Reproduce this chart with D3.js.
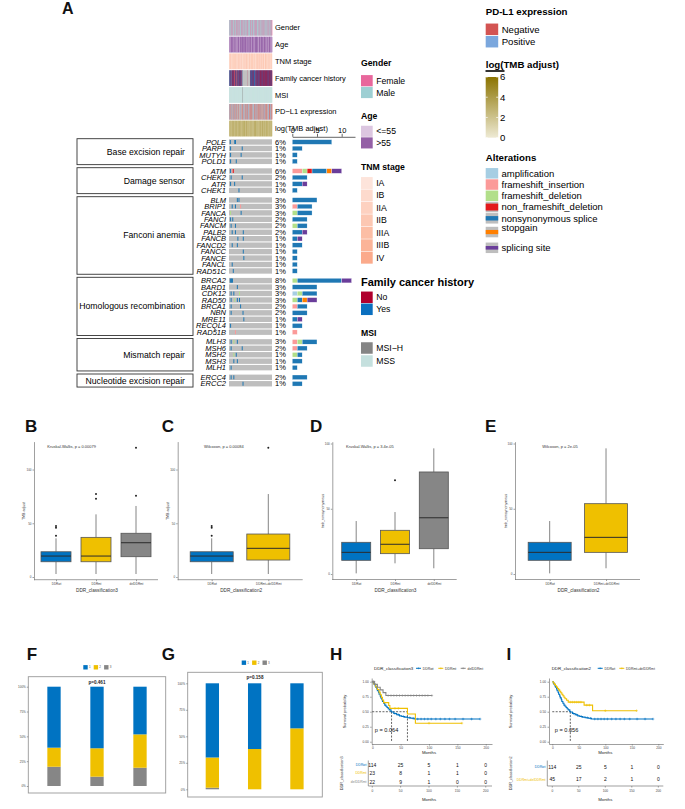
<!DOCTYPE html>
<html><head><meta charset="utf-8">
<script src="https://cdn.jsdelivr.net/npm/d3@7"></script>
<style>body{margin:0;background:#fff}</style>
</head><body>
<script>
// ================= DATA =================
const annotationNames = ["Gender","Age","TNM stage","Family cancer history","MSI","PD\u2212L1 expression","log(TMB adjust)"];
// one character per sample (159 samples)
const genderCodes = "MFMMFMMFMF"+"MMFMFMMMFM"+"FMMFMMFMFM"+"MMFFMMFMMF"+"MFMMMFMFMM"+"FMFMMFMMFM"+"MMFMFMMFFM"+"MFMMFMMMFM"+"FMFMMFMFMM"+"MMFMMFMFMF"+"MFMFMMMFMM"+"FMMFMFMMFM"+"MFMMFMMFMF"+"MMFMFMMFMM"+"FMMFMMFMFM"+"MFMMFMFMF";
const ageCodes    = "OOYOOOYOOO"+"OYOOOOYOOY"+"OOOYOOOOYO"+"OOYOOOOOYO"+"YOOOOYOOOO"+"OOYOOOYOOO"+"OOOOYOOYOO"+"OYOOOOOYOO"+"OOOYOOOOOY"+"OOYOOYOOOO"+"OOOOYOOOYO"+"YOOOOOYOOO"+"OOYOOOOYOO"+"OOOOYOOOOY"+"OYOOOOYOOO"+"OOOYOOOYO";
const tnmCodes    = "3241352613"+"2413526142"+"3514263241"+"5231426315"+"2413632514"+"1352416324"+"5142362315"+"4231562413"+"2615342531"+"4236152413"+"3524162534"+"1425363142"+"5341262453"+"2136452314"+"6241352413"+"524136251";
const familyCodes = "YNY-YNYN-Y"+"NYNNYNNYNN"+"N-NYNYN-NY"+"NYN-YNYNNY"+"NYNYN-NYNY"+"----------"+"-------N--"+"--------YN"+"YNYYNYNYNN"+"YNYNYY-NYN"+"NYNYNNYNYN"+"YNNYNYNNYN"+"NYNNYNYNNY"+"NNYNYNNYNN"+"YNNYNNYNYN"+"NYNNYNNYN";
const msiCodes    = "SSSSSSSSSS"+"SSSSSSSSSS"+"SSSSSSSSSS"+"SSSSSSSSSS"+"SSSSSSSSSS"+"HSSSSSSSSS"+"SSSSSSSSSS"+"SSSSSSSSSS"+"SSSSSSSSSS"+"SSSSSSSSSS"+"SSSSSSSSSS"+"SSSSSSSSSS"+"SSSSSSSSSS"+"SSSSSSSSSS"+"SSSSSSSSSS"+"SSSSSSSSS";
const pdl1Codes   = "-N-P--N-N-"+"P-N--NP-N-"+"-N-N-P--N-"+"N--P-N-N--"+"-NP--N--N-"+"N-N-P-N--P"+"-N--N-P-N-"+"N-P-N--N-N"+"-N-N-P--N-"+"P--N-N-N-P"+"-N-P--N-N-"+"N--N-P-N--"+"-N-N--P-N-"+"N-P--N-N-N"+"-N--N-P--N"+"N-N-P-N-N";
const logTmbCodes = "3232432323"+"2343232432"+"3234323243"+"2323432324"+"3432323234"+"2324323432"+"3232343232"+"4323232343"+"2342323232"+"3232432343"+"2324323232"+"3432324323"+"2323432324"+"3243232343"+"2324323232"+"343232432";

const pathwayNames = ["Base excision repair","Damage sensor","Fanconi anemia","Homologous recombination","Mismatch repair","Nucleotide excision repair"];
const pathwayGenes = [
  ["POLE","PARP1","MUTYH","POLD1"],
  ["ATM","CHEK2","ATR","CHEK1"],
  ["BLM","BRIP1","FANCA","FANCI","FANCM","PALB2","FANCB","FANCD2","FANCC","FANCE","FANCL","RAD51C"],
  ["BRCA2","BARD1","CDK12","RAD50","BRCA1","NBN","MRE11","RECQL4","RAD51B"],
  ["MLH3","MSH6","MSH2","MSH3","MLH1"],
  ["ERCC4","ERCC2"]];
const genePercents = [[6,1,1,1],[6,2,1,1],[3,3,3,2,2,2,1,1,1,1,1,1],[8,3,3,3,2,2,1,1,1],[3,2,1,1,1],[2,1]];
const alterationNames = ["amplification","frameshift_insertion","frameshift_deletion","non_frameshift_deletion","nonsynonymous splice","stopgain","splicing site"];
// counts per alteration type (same order as alterationNames)
const geneCounts = {
  POLE:[0,0,0,0,8,0,0], PARP1:[0,0,0,0,2,0,0], MUTYH:[0,0,0,0,1,0,0], POLD1:[0,0,0,0,1,0,0],
  ATM:[0,2,1,1,3,1,2], CHEK2:[0,0,0,0,3,0,0], ATR:[0,0,0,0,2,0,1], CHEK1:[0,0,0,0,1,0,0],
  BLM:[0,0,0,0,5,0,0], BRIP1:[0,1,0,0,3,0,0], FANCA:[0,0,1,0,3,0,0], FANCI:[0,0,0,0,3,0,0],
  FANCM:[0,0,1,0,2,0,0], PALB2:[0,0,0,0,2,0,1], FANCB:[0,0,0,0,1,0,1], FANCD2:[0,0,0,0,2,0,0],
  FANCC:[0,0,0,0,1,0,0], FANCE:[0,0,0,0,1,0,0], FANCL:[0,0,0,0,1,0,0], RAD51C:[0,0,0,0,1,0,0],
  BRCA2:[0,0,1,0,9,0,2], BARD1:[0,0,0,0,5,0,0], CDK12:[1,0,1,0,3,0,0], RAD50:[0,0,1,0,1,1,2],
  BRCA1:[0,1,0,0,2,0,0], NBN:[0,0,0,0,3,0,0], MRE11:[0,0,0,0,1,0,1], RECQL4:[0,0,0,0,2,0,0],
  RAD51B:[0,1,0,0,0,0,0], MLH3:[0,1,1,0,3,0,0], MSH6:[0,1,0,0,2,0,0], MSH2:[0,0,1,0,1,0,0],
  MSH3:[0,0,0,0,2,0,0], MLH1:[0,0,0,0,1,0,0], ERCC4:[0,0,0,0,3,0,0], ERCC2:[0,0,0,0,2,0,0]};
// [sample index, alteration type index]
const mutationSamples = {
  POLE:[[3,4],[20,4],[21,4],[22,4]], PARP1:[[4,4],[47,4]], MUTYH:[[4,4],[43,4]], POLD1:[[4,4],[25,4]],
  ATM:[[4,4],[10,1],[14,3]], CHEK2:[[6,4],[47,4]], ATR:[[4,4],[19,4]], CHEK1:[[35,4]],
  BLM:[[29,4],[35,4]], BRIP1:[[10,4],[22,4],[41,1]], FANCA:[[4,2],[43,4]], FANCI:[[4,4],[12,4]],
  FANCM:[[6,4],[22,4]], PALB2:[[10,4],[22,4],[51,4]], FANCB:[[31,4],[51,4]], FANCD2:[[10,4],[29,4]],
  FANCC:[[51,4]], FANCE:[[53,4]], FANCL:[[10,4]], RAD51C:[[14,4]],
  BRCA2:[[3,4],[5,4],[7,4],[9,4],[11,4]], BARD1:[[29,4]], CDK12:[[6,4],[16,4],[37,2]], RAD50:[[6,4],[19,2],[29,4],[37,4]],
  BRCA1:[[6,4],[41,4]], NBN:[[6,4],[50,4]], MRE11:[[53,4]], RECQL4:[[4,4]], RAD51B:[[22,1]],
  MLH3:[[6,4],[16,2],[29,4]], MSH6:[[6,4],[47,4]], MSH2:[[16,2],[25,4]], MSH3:[[16,4],[29,4]], MLH1:[[6,4]],
  ERCC4:[[6,4],[16,4]], ERCC2:[[50,4]]};
const barAxisTicks = [0,5,10];

const genderLevels = ["Female","Male"];
const ageLevels = ["<=55",">55"];
const tnmLevels = ["IA","IB","IIA","IIB","IIIA","IIIB","IV"];
const familyLevels = ["No","Yes"];
const msiLevels = ["MSI\u2212H","MSS"];
const pdl1Levels = ["Negative","Positive"];
const tmbLegendTicks = [0,2,4,6];

// Box plots: [lower whisker, Q1, median, Q3, upper whisker]
const class3Groups = ["DDRwt","DDRmt","delDDRmt"];
const class2Groups = ["DDRwt","DDRmt+delDDRmt"];
const tmbClass3Stats = [[2.8,14.2,19.5,23.5,36],[2.8,14.2,19.5,36.9,58.3],[2.8,18.9,31.9,40.7,66.1]];
const tmbClass3Out = [[47.5,45.9,38.4],[77.2,72.9],[75.6,120.3]];
const tmbClass2Stats = [[2.8,14.2,19.5,23.5,36],[2.8,15.8,26.7,40,77.2]];
const tmbClass2Out = [[47.5,45.9,38.4],[120.3]];
const nonsynClass3Stats = [[0.5,10.5,16.6,24.3,40.6],[8.2,15.6,22.8,33.5,47.5],[4.4,19.4,43.1,78.2,96.3]];
const nonsynClass3Out = [[],[71.8],[]];
const nonsynClass2Stats = [[0.5,10.5,16.6,24.3,40.6],[4.4,16.6,28.1,53.9,96.3]];
const nonsynClass2Out = [[],[]];
const boxTicks = [0,50,100];

// stacked proportions: [gray, yellow, blue]
const legendStackLabels = ["1","2","3"];
const propF = [[0.194,0.192,0.614],[0.094,0.286,0.620],[0.184,0.336,0.480]];
const propG = [[0.015,0.285,0.700],[0.0,0.380,0.620],[0.0,0.575,0.425]];
const pctTicks = [0,0.25,0.5,0.75,1];

// Kaplan-Meier steps [months, survival]
const kmDDRwt = [[0,1],[2,0.98],[3,0.96],[5,0.93],[6,0.91],[8,0.88],[9,0.85],[11,0.82],[12,0.79],[14,0.76],[15,0.73],[17,0.70],[18,0.67],[20,0.64],[22,0.61],[24,0.59],[26,0.57],[28,0.55],[30,0.53],[33,0.505],[34,0.495],[38,0.47],[43,0.45],[48,0.43],[52,0.42],[57,0.41],[62,0.40],[68,0.39],[74,0.378]];
const kmDDRwtEnd = 190;
const kmDDRwtCensor = [40,46,55,66,72,80,86,92,98,104,112,120,128,136,146,160,175,190];
const kmDDRmt = [[0,1],[3,0.957],[6,0.913],[9,0.87],[12,0.826],[14,0.783],[16,0.739],[18,0.696],[20,0.652],[29,0.604],[31,0.556],[62,0.463],[76,0.309]];
const kmDDRmtEnd = 158;
const kmDDRmtCensor = [40,46,100,158];
const kmDel = [[0,1],[4,0.955],[9,0.909],[14,0.864],[19,0.818],[24,0.77]];
const kmDelEnd = 105;
const kmDelCensor = [1,2,3,28,33,38,43,48,53,58,63,68,73,78,83,88,93,98,105];
const kmMtDel = [[0,1],[2,0.978],[4,0.956],[6,0.933],[8,0.91],[10,0.887],[12,0.864],[14,0.84],[16,0.815],[18,0.79],[20,0.765],[22,0.74],[24,0.715],[27,0.69],[30,0.66],[60,0.61],[76,0.517]];
const kmMtDelEnd = 159;
const kmMtDelCensor = [34,38,42,46,50,54,65,70,100,159];
const kmTicks = [0,50,100,150,200];
const medianH = [34,62];
const medianI = [34];
const riskH = [[114,25,5,1,0],[23,8,1,1,0],[22,9,1,0,0]];
const riskI = [[114,25,5,1,0],[45,17,2,1,0]];

// ================= STYLE =================
const FONT = '"Liberation Sans", Arial, Helvetica, sans-serif';
const genderColors = ["#E8679C","#9DCFD3"];
const ageColors = ["#DCC6E0","#9460A6"];
const tnmColors = ["#FDE4DB","#FDDACD","#FDD1C0","#FCC7B2","#FCBEA5","#FBB498","#FBAA8B"];
const familyColors = ["#B0002E","#0A6FBF"];
const msiColors = ["#858585","#C5E0DE"];
const pdl1Colors = ["#D35452","#7BA7DD"];
const naColor = "#BEBEBE";
const altColors = ["#A6CEE3","#FB9A99","#B2DF8A","#E31A1C","#1F78B4","#FF7F00","#6A3D9A"];
const jco = {blue:"#0073C2", yellow:"#EFC000", gray:"#868686"};
const tmbColor = d3.scaleLinear().domain([0,6]).range(["#EEEAD4","#8B7300"]);

const svg = d3.select("body").append("svg").attr("width",685).attr("height",809).style("font-family",FONT);

function txt(x,y,s,o={}){
  const t = svg.append("text").attr("x",x).attr("y",y).text(s)
    .attr("font-size",o.fs||8).attr("fill",o.fill||"#000");
  if(o.anchor) t.attr("text-anchor",o.anchor);
  if(o.weight) t.attr("font-weight",o.weight);
  if(o.style) t.attr("font-style",o.style);
  if(o.rot!=null) t.attr("transform",`rotate(${o.rot},${x},${y})`);
  return t;
}
function styleAxis(a,fs){
  a.attr("font-family",FONT).attr("font-size",fs);
  a.selectAll(".domain,.tick line").attr("stroke","#777").attr("stroke-width",0.7);
  a.selectAll("text").attr("fill","#444");
}

// panel letters
[["A",62,13.5,16],["B",25,431.7,17],["C",161.7,431.7,17],["D",310,431.7,17],["E",485,431.7,17],
 ["F",26.7,660,17],["G",161.7,660,17],["H",330,660,17],["I",506.5,660,17]]
 .forEach(([l,x,y,f])=>txt(x,y,l,{fs:f,weight:"bold",fill:"#111"}));

// ================= PANEL A =================
const nS = genderCodes.length;
const sx = d3.scaleLinear().domain([0,nS]).range([229,272]);
const colW = sx(1)-sx(0);
const annBand = d3.scaleBand().domain(annotationNames).range([20,136.3]).paddingInner(0.075);
const annCodes = [genderCodes,ageCodes,tnmCodes,familyCodes,msiCodes,pdl1Codes,logTmbCodes];
const annColor = [
  c=>genderColors["FM".indexOf(c)],
  c=>ageColors["YO".indexOf(c)],
  c=>tnmColors[+c-1],
  c=>c==="-"?naColor:familyColors["NY".indexOf(c)],
  c=>msiColors["HS".indexOf(c)],
  c=>c==="-"?naColor:pdl1Colors["NP".indexOf(c)],
  c=>tmbColor(+c)];
annotationNames.forEach((name,r)=>{
  svg.append("g").selectAll("rect").data(annCodes[r].split("")).join("rect")
    .attr("x",(d,i)=>sx(i)).attr("width",colW+0.3)
    .attr("y",annBand(name)).attr("height",annBand.bandwidth())
    .attr("fill",d=>annColor[r](d));
  txt(275, annBand(name)+annBand.bandwidth()/2+2.7, name, {fs:7.5});
});

// gene rows
const geneRows = [];
pathwayGenes.forEach((genes,g)=>genes.forEach((name,i)=>geneRows.push({name,g,pct:genePercents[g][i],k:geneRows.length})));
const rowY = d => 142 + d.k*6.45 + d.g*3.2;
const bx = d3.scaleLinear().domain([0,12.7]).range([292.3,355]);

pathwayNames.forEach((p,g)=>{
  const rows = geneRows.filter(d=>d.g===g);
  const y0 = rowY(rows[0])-3.3, y1 = rowY(rows[rows.length-1])+3.3;
  svg.append("rect").attr("x",77).attr("y",y0).attr("width",116).attr("height",y1-y0)
    .attr("fill","none").attr("stroke","#333").attr("stroke-width",0.9);
  txt(185,(y0+y1)/2+3,p,{fs:8.7,anchor:"end"});
});

const gRows = svg.append("g");
geneRows.forEach(d=>{
  const y = rowY(d);
  txt(226, y+2.6, d.name, {fs:7.5, style:"italic", anchor:"end"});
  gRows.append("rect").attr("x",sx(0)).attr("y",y-2.7).attr("width",sx(nS)-sx(0)).attr("height",5.4).attr("fill",naColor);
  mutationSamples[d.name].forEach(([s,t])=>{
    gRows.append("rect").attr("x",sx(s)).attr("y",y-2).attr("width",1).attr("height",4).attr("fill",altColors[t]);
  });
  txt(275, y+2.6, d.pct+"%", {fs:7.5});
  let acc = 0;
  geneCounts[d.name].forEach((n,t)=>{
    if(n>0){
      gRows.append("rect").attr("x",bx(acc)).attr("y",y-2.3).attr("width",bx(acc+n)-bx(acc)).attr("height",4.6)
        .attr("fill",altColors[t]).attr("stroke","#fff").attr("stroke-width",0.3);
      acc += n;
    }
  });
});
const barAxis = svg.append("g").attr("transform","translate(0,136.8)")
  .call(d3.axisTop(bx).tickValues(barAxisTicks).tickSize(3).tickSizeOuter(0).tickPadding(1));
barAxis.attr("font-family",FONT).attr("font-size",7.5);
barAxis.selectAll(".domain,.tick line").attr("stroke","#222").attr("stroke-width",0.7);
barAxis.selectAll("text").attr("fill","#000");

// legends
function catLegend(x, yTitle, title, titleFs, levels, colors, yFirst, step, swW, swH, labFs){
  txt(x, yTitle, title, {fs:titleFs, weight:"bold"});
  levels.forEach((l,i)=>{
    const cy = yFirst + i*step;
    svg.append("rect").attr("x",x).attr("y",cy-swH/2).attr("width",swW).attr("height",swH).attr("fill",colors[i]);
    txt(x+swW+3.5, cy+labFs*0.35, l, {fs:labFs});
  });
}
catLegend(361, 66, "Gender", 8.7, genderLevels, genderColors, 80.7, 11.8, 11.7, 11.2, 8.7);
catLegend(361, 118.7, "Age", 8.7, ageLevels, ageColors, 131.3, 11.6, 11.7, 11.1, 8.7);
catLegend(361, 169.7, "TNM stage", 8.7, tnmLevels, tnmColors, 183, 12.45, 11.7, 11.9, 8.7);
catLegend(361, 286, "Family cancer history", 11, familyLevels, familyColors, 297.3, 12, 11.7, 11.5, 8.7);
catLegend(361, 335.7, "MSI", 8.7, msiLevels, msiColors, 348, 13, 11.7, 11.5, 8.7);
catLegend(485.7, 15.3, "PD-L1 expression", 9.7, pdl1Levels, pdl1Colors, 29.3, 12.4, 12.5, 11.5, 9.6);

// TMB colorbar
txt(485.7, 68.3, "log(TMB adjust)", {fs:9.7, weight:"bold"});
svg.append("line").attr("x1",485.5).attr("x2",504.5).attr("y1",71).attr("y2",71).attr("stroke","#000").attr("stroke-width",1.6);
const defs = svg.append("defs");
const grad = defs.append("linearGradient").attr("id","tmbg").attr("x1",0).attr("x2",0).attr("y1",1).attr("y2",0);
[0,3,6].forEach(v=>grad.append("stop").attr("offset",v/6).attr("stop-color",tmbColor(v)));
const tl = d3.scaleLinear().domain([0,6]).range([137.7,77]);
svg.append("rect").attr("x",485.7).attr("y",tl(6)).attr("width",12.5).attr("height",tl(0)-tl(6)).attr("fill","url(#tmbg)");
tmbLegendTicks.forEach(v=>{
  svg.append("line").attr("x1",485.7).attr("x2",487.7).attr("y1",tl(v)).attr("y2",tl(v)).attr("stroke","#fff").attr("stroke-width",0.7);
  svg.append("line").attr("x1",496.2).attr("x2",498.2).attr("y1",tl(v)).attr("y2",tl(v)).attr("stroke","#fff").attr("stroke-width",0.7);
  txt(500, tl(v)+3.4, String(v), {fs:9.6});
});

// alterations legend
txt(485.7, 160.6, "Alterations", {fs:9.7, weight:"bold"});
const bandFrac = [1,1,1,0.66,0.42,0.4,0.34];
alterationNames.forEach((a,i)=>{
  const cy = 173.3 + i*11.25 + (i>=5?2.5:0) + (i>=6?4.5:0);
  const h = 10.5;
  if(i>=3) svg.append("rect").attr("x",485.7).attr("y",cy-h/2).attr("width",12.5).attr("height",h).attr("fill",naColor);
  const bh = h*bandFrac[i];
  svg.append("rect").attr("x",485.7).attr("y",cy-bh/2).attr("width",12.5).attr("height",bh).attr("fill",altColors[i]);
  txt(501.5, cy+(i===5?-1.2:3.3), a, {fs:9.5});
});

// ================= PANELS B-E =================
function boxPanel(c){
  const y = d3.scaleLinear().domain(c.ylim).range([c.bottom,c.top]);
  const x = d3.scalePoint().domain(c.groups).range(c.xr).padding(0.5);
  const ya = svg.append("g").attr("transform",`translate(${c.left},0)`)
    .call(d3.axisLeft(y).tickValues(boxTicks).tickSize(1.5).tickSizeOuter(0).tickPadding(1));
  styleAxis(ya,3);
  svg.append("line").attr("x1",c.left).attr("x2",c.right).attr("y1",c.bottom).attr("y2",c.bottom).attr("stroke","#777").attr("stroke-width",0.7);
  const xa = svg.append("g").attr("transform",`translate(0,${c.bottom})`)
    .call(d3.axisBottom(x).tickSize(1.5).tickPadding(1.5));
  xa.select(".domain").remove();
  styleAxis(xa,3);
  c.stats.forEach((s,i)=>{
    const cx = x(c.groups[i]);
    const [lo,q1,md,q3,hi] = s;
    const g = svg.append("g");
    g.append("line").attr("x1",cx).attr("x2",cx).attr("y1",y(lo)).attr("y2",y(q1)).attr("stroke","#666").attr("stroke-width",0.8);
    g.append("line").attr("x1",cx).attr("x2",cx).attr("y1",y(q3)).attr("y2",y(hi)).attr("stroke","#666").attr("stroke-width",0.8);
    g.append("rect").attr("x",cx-c.boxW/2).attr("y",y(q3)).attr("width",c.boxW).attr("height",y(q1)-y(q3))
      .attr("fill",c.colors[i]).attr("stroke","#555").attr("stroke-width",0.8);
    g.append("line").attr("x1",cx-c.boxW/2).attr("x2",cx+c.boxW/2).attr("y1",y(md)).attr("y2",y(md)).attr("stroke","#2b2b2b").attr("stroke-width",1);
    c.out[i].forEach(v=>g.append("circle").attr("cx",cx).attr("cy",y(v)).attr("r",1).attr("fill","#222"));
  });
  txt(c.px, 448.2, c.ptext, {fs:4, fill:"#333"});
  txt(c.yTitleX, 511, c.yTitle, {fs:3.6, anchor:"middle", rot:-90, fill:"#333"});
  txt((c.left+c.right)/2+1, 591.5, c.xTitle, {fs:4.7, anchor:"middle", fill:"#333"});
}
const col3 = [jco.blue, jco.yellow, jco.gray], col2 = [jco.blue, jco.yellow];
boxPanel({left:34,right:158,top:441.6,bottom:579.7,ylim:[-2.5,126],groups:class3Groups,xr:[36,156],boxW:30,
  stats:tmbClass3Stats,out:tmbClass3Out,colors:col3,ptext:"Kruskal-Wallis, p = 0.00079",px:47.3,
  yTitle:"TMB adjust",yTitleX:25,xTitle:"DDR_classification3"});
boxPanel({left:177.7,right:302.7,top:441.6,bottom:579.7,ylim:[-2.5,126],groups:class2Groups,xr:[183.4,296.6],boxW:43,
  stats:tmbClass2Stats,out:tmbClass2Out,colors:col2,ptext:"Wilcoxon, p = 0.00084",px:204,
  yTitle:"TMB adjust",yTitleX:169,xTitle:"DDR_classification2"});
boxPanel({left:332.3,right:456.7,top:441.7,bottom:579.5,ylim:[-4.2,101.4],groups:class3Groups,xr:[336.8,453.2],boxW:29,
  stats:nonsynClass3Stats,out:nonsynClass3Out,colors:col3,ptext:"Kruskal-Wallis, p = 3.4e-05",px:346,
  yTitle:"tmb_nonsynonymous",yTitleX:323.5,xTitle:"DDR_classification3"});
boxPanel({left:515,right:640,top:441.7,bottom:579.5,ylim:[-4.2,101.4],groups:class2Groups,xr:[521.5,634.2],boxW:43,
  stats:nonsynClass2Stats,out:nonsynClass2Out,colors:col2,ptext:"Wilcoxon, p = 2e-05",px:542.3,
  yTitle:"tmb_nonsynonymous",yTitleX:506.5,xTitle:"DDR_classification2"});

// ================= PANELS F-G =================
function stackPanel(c){
  svg.append("rect").attr("x",c.bl).attr("y",c.bt).attr("width",c.br-c.bl).attr("height",c.bb-c.bt)
    .attr("fill","none").attr("stroke","#999").attr("stroke-width",0.9);
  const y = d3.scaleLinear().domain([0,1]).range(c.yr);
  const x = d3.scaleBand().domain(d3.range(c.data.length)).range(c.xr).paddingInner(c.pad).paddingOuter(c.pad/2);
  const ya = svg.append("g").attr("transform",`translate(${c.bl},0)`)
    .call(d3.axisLeft(y).tickValues(pctTicks).tickFormat(d3.format(".0%")).tickSize(1.5).tickPadding(1));
  ya.select(".domain").remove();
  styleAxis(ya,3);
  const series = d3.stack().keys([0,1,2])(c.data);
  const cols = [jco.gray, jco.yellow, jco.blue];
  series.forEach((s,k)=>{
    svg.append("g").selectAll("rect").data(s).join("rect")
      .attr("x",(d,i)=>x(i)).attr("width",x.bandwidth())
      .attr("y",d=>y(d[1])).attr("height",d=>y(d[0])-y(d[1])).attr("fill",cols[k]);
  });
  txt((c.bl+c.br)/2, c.bt+7, c.ptext, {fs:4.6, weight:"bold", anchor:"middle", fill:"#222"});
  [jco.blue, jco.yellow, jco.gray].forEach((col,i)=>{
    const lx = c.legX + i*10.4;
    svg.append("rect").attr("x",lx).attr("y",c.legY-2.2).attr("width",4.4).attr("height",4.4).attr("fill",col);
    txt(lx+5.6, c.legY+1.1, legendStackLabels[i], {fs:3, fill:"#555"});
  });
}
stackPanel({bl:28.3,br:165.7,bt:676.7,bb:793,yr:[786,686.7],xr:[32.5,161.5],pad:0.69,data:propF,ptext:"p=0.461",legX:83.3,legY:667.3});
stackPanel({bl:187.7,br:322.3,bt:672.3,bb:797,yr:[789.3,683.3],xr:[191.2,318.1],pad:0.685,data:propG,ptext:"p=0.158",legX:241.7,legY:662.7});

// ================= PANELS H-I =================
function survAt(steps,t){ let s=1; steps.forEach(d=>{ if(d[0]<=t) s=d[1]; }); return s; }
function kmPanel(c){
  const x = d3.scaleLinear().domain(c.xd).range(c.xr);
  const y = d3.scaleLinear().domain([-0.038,1.062]).range([744,678]);
  const ya = svg.append("g").attr("transform",`translate(${c.xr[0]},0)`)
    .call(d3.axisLeft(y).tickValues([0,0.25,0.5,0.75,1]).tickFormat(d3.format(".2f")).tickSize(1.5).tickSizeOuter(0).tickPadding(1.5));
  styleAxis(ya,3.2);
  const xa = svg.append("g").attr("transform","translate(0,744)")
    .call(d3.axisBottom(x).tickValues(kmTicks).tickSize(1.5).tickSizeOuter(0).tickPadding(1.5));
  styleAxis(xa,3.2);
  txt(x(100), 754.3, "Months", {fs:4.3, anchor:"middle", fill:"#222"});
  txt(c.survX, 711.5, "Survival probability", {fs:4, anchor:"middle", rot:-90, fill:"#333"});
  // median lines
  const dash = {stroke:"#222", w:0.7, d:"2,1.4"};
  const hl = svg.append("line").attr("x1",x(0)).attr("x2",x(d3.max(c.medians))).attr("y1",y(0.5)).attr("y2",y(0.5));
  const lines=[hl];
  c.medians.forEach(m=>lines.push(svg.append("line").attr("x1",x(m)).attr("x2",x(m)).attr("y1",y(0.5)).attr("y2",y(0))));
  lines.forEach(l=>l.attr("stroke",dash.stroke).attr("stroke-width",dash.w).attr("stroke-dasharray",dash.d));
  // curves
  c.series.forEach(s=>{
    const pts = s.steps.concat([[s.end, s.steps[s.steps.length-1][1]]]);
    svg.append("path").attr("d",d3.line().x(d=>x(d[0])).y(d=>y(d[1])).curve(d3.curveStepAfter)(pts))
      .attr("fill","none").attr("stroke",s.color).attr("stroke-width",1.1);
    const cp = s.censor.map(t=>[x(t),y(survAt(s.steps,t))]);
    svg.append("path").attr("d",cp.map(([px,py])=>`M${px-1.3},${py}h2.6M${px},${py-1.3}v2.6`).join(""))
      .attr("stroke",s.color).attr("stroke-width",0.5).attr("fill","none");
  });
  txt(x(0)+2.5, 731.8, c.ptext, {fs:5.6, fill:"#111"});
  // legend
  txt(c.legX, 669.8, c.legTitle, {fs:4.4, fill:"#222"});
  c.series.forEach((s,i)=>{
    const lx = c.legKeys[i];
    svg.append("line").attr("x1",lx).attr("x2",lx+5).attr("y1",668.3).attr("y2",668.3).attr("stroke",s.color).attr("stroke-width",1);
    svg.append("path").attr("d",`M${lx+1.5},668.3h2M${lx+2.5},667.3v2`).attr("stroke",s.color).attr("stroke-width",0.4);
    txt(lx+6.8, 669.8, s.name, {fs:3.4, fill:"#333"});
  });
  // risk table
  const rb = d3.scaleBand().domain(c.series.map(s=>s.name)).range([760.5,786]);
  svg.append("line").attr("x1",c.rtX).attr("x2",c.rtX).attr("y1",760.5).attr("y2",786).attr("stroke","#777").attr("stroke-width",0.7);
  svg.append("line").attr("x1",c.rtX).attr("x2",c.xr[1]).attr("y1",786).attr("y2",786).attr("stroke","#777").attr("stroke-width",0.7);
  c.series.forEach((s,i)=>{
    const cy = rb(s.name)+rb.bandwidth()/2;
    txt(c.rtX-1.8, cy+1.2, s.name, {fs:3.4, anchor:"end", fill:s.color});
    c.risk[i].forEach((n,j)=>txt(x(kmTicks[j]), cy+1.8, String(n), {fs:5, anchor:"middle", fill:"#111"}));
  });
  kmTicks.forEach(t=>{
    svg.append("line").attr("x1",x(t)).attr("x2",x(t)).attr("y1",786).attr("y2",787.5).attr("stroke","#777").attr("stroke-width",0.7);
    txt(x(t), 792, String(t), {fs:3.2, anchor:"middle", fill:"#444"});
  });
  txt(x(100), 800.5, "Months", {fs:4.3, anchor:"middle", fill:"#222"});
  txt(c.rtTitleX, 773.3, c.legTitle, {fs:3.8, anchor:"middle", rot:-90, fill:"#333"});
}
kmPanel({xd:[-1,211],xr:[371.7,492],survX:346,rtX:368.3,rtTitleX:343.5,medians:medianH,ptext:"p = 0.064",
  legX:374,legKeys:[416,438.3,460.7],legTitle:"DDR_classification3",risk:riskH,
  series:[{name:"DDRwt",steps:kmDDRwt,end:kmDDRwtEnd,censor:kmDDRwtCensor,color:jco.blue},
          {name:"DDRmt",steps:kmDDRmt,end:kmDDRmtEnd,censor:kmDDRmtCensor,color:jco.yellow},
          {name:"delDDRmt",steps:kmDel,end:kmDelEnd,censor:kmDelCensor,color:jco.gray}]});
kmPanel({xd:[-6.2,209.4],xr:[549,663.3],survX:511.5,rtX:547.3,rtTitleX:511.7,medians:medianI,ptext:"p = 0.056",
  legX:551.7,legKeys:[597.7,619.3],legTitle:"DDR_classification2",risk:riskI,
  series:[{name:"DDRwt",steps:kmDDRwt,end:kmDDRwtEnd,censor:kmDDRwtCensor,color:jco.blue},
          {name:"DDRmt+delDDRmt",steps:kmMtDel,end:kmMtDelEnd,censor:kmMtDelCensor,color:jco.yellow}]});
</script>
</body></html>
